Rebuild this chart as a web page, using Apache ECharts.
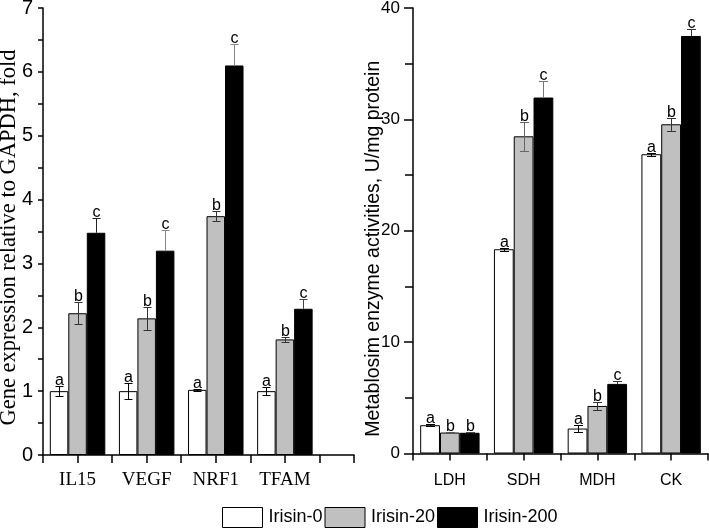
<!DOCTYPE html>
<html>
<head>
<meta charset="utf-8">
<script src="https://cdn.jsdelivr.net/npm/echarts@6/dist/echarts.min.js"></script>
<style>html,body{margin:0;padding:0;background:#fff}#c{width:709px;height:528px}</style>
</head>
<body>
<div id="c"></div>
<script>
// ---- data ----
const geneCats = ['IL15', 'VEGF', 'NRF1', 'TFAM'];
const gene0 = [1.00, 1.00, 1.02, 1.00];
const gene0Err = [0.08, 0.13, 0.02, 0.065];
const gene20 = [2.22, 2.14, 3.74, 1.81];
const gene20Err = [0.17, 0.18, 0.08, 0.035];
const gene200 = [3.48, 3.20, 6.10, 2.29];
const gene200Err = [0.23, 0.33, 0.33, 0.16];
const geneLetters0 = ['a', 'a', 'a', 'a'];
const geneLetters20 = ['b', 'b', 'b', 'b'];
const geneLetters200 = ['c', 'c', 'c', 'c'];

const enzCats = ['LDH', 'SDH', 'MDH', 'CK'];
const enz0 = [2.54, 18.34, 2.24, 26.87];
const enz0Err = [0.08, 0.15, 0.28, 0.15];
const enz20 = [1.88, 28.48, 4.27, 29.56];
const enz20Err = [0.05, 1.3, 0.36, 0.6];
const enz200 = [1.86, 31.96, 6.25, 37.49];
const enz200Err = [0.05, 1.5, 0.27, 0.63];
const enzLetters0 = ['a', 'a', 'a', 'a'];
const enzLetters20 = ['b', 'b', 'b', 'b'];
const enzLetters200 = ['b', 'c', 'c', 'c'];

const seriesNames = ['Irisin-0', 'Irisin-20', 'Irisin-200'];
const geneYTicks = [0, 7, 1];
const enzYTicks = [0, 40, 10];
const geneTitle = 'Gene expression relative to GAPDH, fold';
const enzTitle = 'Metablosim enzyme activities, U/mg protein';

// ---- styling ----
const SANS = 'Arial';
const SERIF = 'Times New Roman';
const fills = ['#ffffff', '#c0c0c0', '#000000'];
const gene200ErrColors = ['#222', '#888', '#888', '#444'];
const enz200ErrColors = ['#444', '#777', '#333', '#333'];

function toPairs(arr) { return arr.map((v, i) => [i + 1, v]); }
function toTriples(arr, errs) { return arr.map((v, i) => [i + 1, v, errs[i]]); }

function barSeries(k, vals, gi, barW) {
  return {
    type: 'bar', name: seriesNames[k], xAxisIndex: gi, yAxisIndex: gi,
    data: toPairs(vals), barWidth: barW, barGap: '0%',
    itemStyle: { color: fills[k], borderColor: '#000', borderWidth: 1 },
    z: 2, silent: true
  };
}

function errSeries(k, vals, errs, letters, colors, gi, barW, capW) {
  const upperOnly = (k === 2);
  return {
    type: 'custom', xAxisIndex: gi, yAxisIndex: gi, z: 10, silent: true,
    data: toTriples(vals, errs),
    renderItem: function (params, api) {
      const i = params.dataIndex;
      const x = api.value(0), m = api.value(1), e = api.value(2);
      const c = api.coord([x, m]);
      const cx = Math.round(c[0] + (k - 1) * barW) + 0.5;
      const yTop = Math.round(api.coord([x, m + e])[1]) + 0.5;
      const yBot = upperOnly ? c[1] : Math.round(api.coord([x, m - e])[1]) + 0.5;
      const col = colors[i];
      const children = [
        { type: 'line', shape: { x1: cx, y1: yTop, x2: cx, y2: yBot }, style: { stroke: col, lineWidth: 1 } },
        { type: 'line', shape: { x1: cx - capW / 2, y1: yTop, x2: cx + capW / 2, y2: yTop }, style: { stroke: col, lineWidth: 1 } }
      ];
      if (!upperOnly) {
        children.push({ type: 'line', shape: { x1: cx - capW / 2, y1: yBot, x2: cx + capW / 2, y2: yBot }, style: { stroke: col, lineWidth: 1 } });
      }
      children.push({
        type: 'text', x: cx, y: yTop + 2,
        style: { text: letters[i], fill: '#000', fontSize: 16, fontFamily: SANS, align: 'center', verticalAlign: 'bottom' }
      });
      return { type: 'group', children: children };
    }
  };
}

function catFormatter(cats) {
  return function (v) {
    const i = Math.round(v);
    if (Math.abs(v - i) < 1e-6 && i >= 1 && i <= cats.length) return cats[i - 1];
    return '';
  };
}

const axisLineStyle = { color: '#000', width: 1.5 };

const option = {
  animation: false,
  backgroundColor: '#fff',
  grid: [
    { left: 43, top: 8, width: 311, height: 447, containLabel: false, outerBoundsMode: 'none' },
    { left: 413, top: 8, width: 295, height: 445.5, containLabel: false, outerBoundsMode: 'none' }
  ],
  xAxis: [
    {
      type: 'value', gridIndex: 0, min: 0.5, max: 5, interval: 0.5,
      axisLine: { show: true, onZero: false, lineStyle: axisLineStyle },
      axisTick: { show: true, length: 8, lineStyle: { color: '#000', width: 1.5 } },
      splitLine: { show: false },
      axisLabel: { formatter: catFormatter(geneCats), color: '#000', fontFamily: SERIF, fontSize: 19, margin: 16 }
    },
    {
      type: 'value', gridIndex: 1, min: 0.5, max: 4.5, interval: 0.5,
      axisLine: { show: true, onZero: false, lineStyle: axisLineStyle },
      axisTick: { show: true, length: 7, lineStyle: { color: '#000', width: 1.5 } },
      splitLine: { show: false },
      axisLabel: { formatter: catFormatter(enzCats), color: '#000', fontFamily: SANS, fontSize: 16, margin: 19 }
    }
  ],
  yAxis: [
    {
      type: 'value', gridIndex: 0, min: geneYTicks[0], max: geneYTicks[1], interval: geneYTicks[2],
      name: geneTitle, nameLocation: 'middle', nameRotate: 90, nameGap: 22, nameMoveOverlap: false,
      nameTextStyle: { color: '#000', fontFamily: SERIF, fontSize: 22.5, padding: [0, 12, 0, 0] },
      axisLine: { show: true, lineStyle: axisLineStyle },
      axisTick: { show: true, length: 5, lineStyle: { color: '#000', width: 1.5 } },
      minorTick: { show: true, splitNumber: 2, length: 5, lineStyle: { color: '#000', width: 1.5 } },
      splitLine: { show: false },
      axisLabel: { color: '#000', fontFamily: SANS, fontSize: 20, margin: 10 }
    },
    {
      type: 'value', gridIndex: 1, min: enzYTicks[0], max: enzYTicks[1], interval: enzYTicks[2],
      name: enzTitle, nameLocation: 'middle', nameRotate: 90, nameGap: 29, nameMoveOverlap: false,
      nameTextStyle: { color: '#000', fontFamily: SANS, fontSize: 19.5, padding: [0, 36, 0, 0] },
      axisLine: { show: true, lineStyle: axisLineStyle },
      axisTick: { show: true, length: 9, lineStyle: { color: '#000', width: 1.5 } },
      minorTick: { show: true, splitNumber: 2, length: 8, lineStyle: { color: '#000', width: 1.5 } },
      splitLine: { show: false },
      axisLabel: { color: '#000', fontFamily: SANS, fontSize: 17, margin: 13 }
    }
  ],
  legend: {
    data: seriesNames, left: 222, top: 507, orient: 'horizontal',
    icon: 'rect', itemWidth: 40, itemHeight: 20, itemGap: 2, padding: 0,
    itemStyle: { borderColor: '#000', borderWidth: 1 },
    textStyle: { color: '#000', fontFamily: SANS, fontSize: 18, padding: [0, 0, 0, 1] },
    selectedMode: false
  },
  series: [
    barSeries(0, gene0, 0, 18.5),
    barSeries(1, gene20, 0, 18.5),
    barSeries(2, gene200, 0, 18.5),
    barSeries(0, enz0, 1, 19.8),
    barSeries(1, enz20, 1, 19.8),
    barSeries(2, enz200, 1, 19.8),
    errSeries(0, gene0, gene0Err, geneLetters0, ['#000', '#000', '#000', '#000'], 0, 18.5, 8),
    errSeries(1, gene20, gene20Err, geneLetters20, ['#333', '#333', '#333', '#333'], 0, 18.5, 8),
    errSeries(2, gene200, gene200Err, geneLetters200, gene200ErrColors, 0, 18.5, 8),
    errSeries(0, enz0, enz0Err, enzLetters0, ['#000', '#000', '#000', '#000'], 1, 19.8, 9),
    errSeries(1, enz20, enz20Err, enzLetters20, ['#555', '#666', '#333', '#333'], 1, 19.8, 9),
    errSeries(2, enz200, enz200Err, enzLetters200, enz200ErrColors, 1, 19.8, 9)
  ]
};

const chart = echarts.init(document.getElementById('c'), null, { renderer: 'canvas' });
chart.setOption(option);
</script>
</body>
</html>
